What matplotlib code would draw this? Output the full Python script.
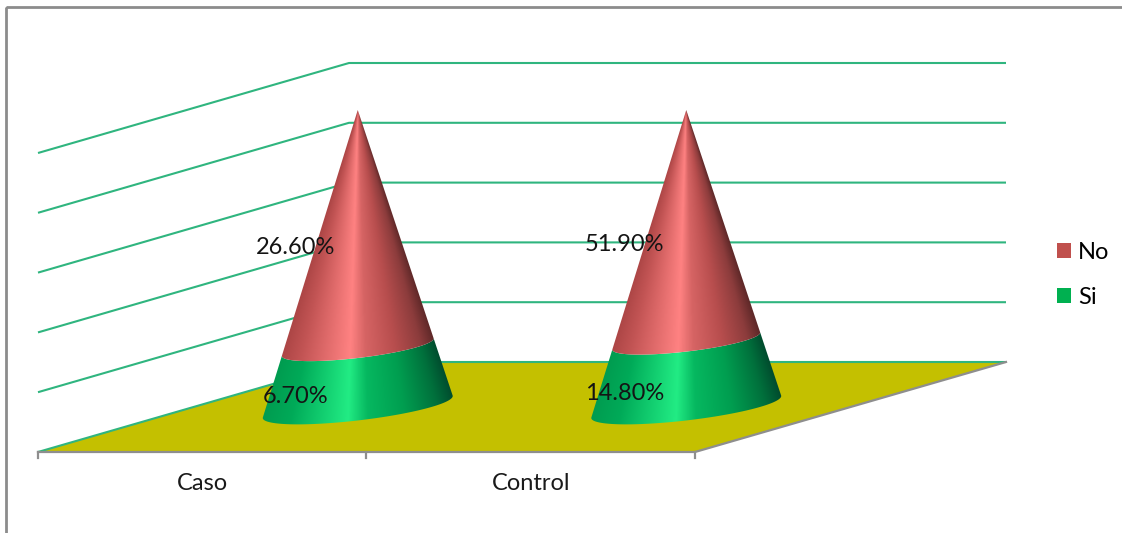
import numpy as np
import matplotlib
matplotlib.use("Agg")
import matplotlib.pyplot as plt
from matplotlib.colors import LinearSegmentedColormap
from matplotlib.patches import Patch, Polygon, Rectangle

# Chart data
categories = ["Caso", "Control"]
si_values = [6.7, 14.8]
no_values = [26.6, 51.9]
series_names = ["No", "Si"]
grid_levels = [0.2, 0.4, 0.6, 0.8, 1.0]

FONT = "Lato"
FONT_SIZE = 17
W, H = 1122, 533

# Oblique projection of the 3-D chart box onto the canvas (in pixels)
ORIGIN = np.array([38.0, 452.0])
CAT_STEP = 328.5
DEPTH_VEC = np.array([311.0, -90.0])
HEIGHT = 299.0
CONE_HEIGHT = 297.0
CONE_HALF_WIDTH = 0.224   # in category units
CONE_HALF_DEPTH = 0.193   # in depth units


def project(cat, level, depth):
    return ORIGIN + np.array([cat * CAT_STEP, -level * HEIGHT]) + depth * DEPTH_VEC


red_shade = LinearSegmentedColormap.from_list(
    "red_shade",
    [(0.0, "#ad4646"), (0.12, "#c25454"), (0.43, "#ff8282"), (0.53, "#d66464"),
     (0.72, "#b84e4e"), (0.9, "#8c3c3c"), (1.0, "#5e2828")])
green_shade = LinearSegmentedColormap.from_list(
    "green_shade",
    [(0.0, "#009c50"), (0.14, "#00aa58"), (0.43, "#22ec84"), (0.53, "#06b860"),
     (0.72, "#009e50"), (0.9, "#00703c"), (1.0, "#004c2e")])

fig = plt.figure(figsize=(W / 100, H / 100), dpi=100)
ax = fig.add_axes([0, 0, 1, 1])

# Chart area border
ax.add_patch(Rectangle((6, 7), W + 20, H + 20, fill=False, ec="#8c8c8c", lw=2.0, zorder=1))

# Floor of the box
floor = [project(0, 0, 0), project(2, 0, 0), project(2, 0, 1), project(0, 0, 1)]
ax.add_patch(Polygon(floor, closed=True, fc="#c4c000", ec="none", zorder=2))

# Gridlines on the side and back walls
GRID = "#2fb57f"
for level in [0.0] + grid_levels:
    pts = np.array([project(0, level, 0), project(0, level, 1), project(2, level, 1)])
    ax.plot(pts[:, 0], pts[:, 1], color=GRID, lw=1.5, zorder=3, solid_capstyle="butt")

# Category axis and the right floor edge
AXIS = "#8e8e8e"
front = np.array([project(0, 0, 0), project(2, 0, 0), project(2, 0, 1)])
ax.plot(front[:, 0], front[:, 1], color=AXIS, lw=1.6, zorder=4)
for c in range(len(categories) + 1):
    p = project(c, 0, 0)
    ax.plot([p[0], p[0]], [p[1], p[1] + 6], color=AXIS, lw=1.6, zorder=4)


def front_arc(center, n=200):
    """Front half of the base circle between the two silhouette tangents."""
    apex = center + np.array([0, -CONE_HEIGHT])
    a = np.array([CONE_HALF_WIDTH * CAT_STEP, 0.0])
    b = CONE_HALF_DEPTH * DEPTH_VEC
    t = np.linspace(0.5 * np.pi, 2.5 * np.pi, 4000)
    pts = center + np.outer(np.cos(t), a) + np.outer(np.sin(t), b)
    ang = (pts[:, 0] - apex[0]) / (pts[:, 1] - apex[1])
    t0, t1 = t[np.argmin(ang)], t[np.argmax(ang)]
    if t1 < t0:
        t1 += 2 * np.pi
    ts = np.linspace(t0, t1, n)
    if np.sin((t0 + t1) / 2) > 0:
        ts = np.linspace(t1, t0 + 2 * np.pi, n)
    return np.outer(np.cos(ts), a) + np.outer(np.sin(ts), b), ang.min(), ang.max()


def draw_section(center, f0, f1, cmap, zorder):
    """Shade the slice of the cone between height fractions f0 and f1.

    Shade follows the ruling through each pixel, so it converges on the apex.
    """
    arc, r_min, r_max = front_arc(center)
    apex = center + np.array([0, -CONE_HEIGHT])
    up = np.array([0, -CONE_HEIGHT])
    x0, x1 = center[0] - 110, center[0] + 110
    y0, y1 = apex[1] - 2, center[1] + 30
    sx, sy = np.meshgrid(np.arange(x0, x1, 0.5), np.arange(y0, y1, 0.5))
    ratio = (sx - apex[0]) / np.maximum(sy - apex[1], 0.5)
    shade = np.clip((ratio - r_min) / (r_max - r_min), 0, 1)
    im = ax.imshow(shade, cmap=cmap, vmin=0, vmax=1, extent=(x0, x1, y1, y0),
                   interpolation="bilinear", aspect="auto", zorder=zorder)
    outline = np.vstack([center + f0 * up + (1 - f0) * arc,
                         (center + f1 * up + (1 - f1) * arc)[::-1]])
    im.set_clip_path(Polygon(outline, closed=True, transform=ax.transData))


# One 100% stacked cone per category, with value labels
for c, (si, no) in enumerate(zip(si_values, no_values)):
    center = project(c + 0.5, 0, 0.5)
    total = si + no
    split = si / total
    draw_section(center, 0.0, split, green_shade, 5)
    draw_section(center, split, 1.0, red_shade, 5)
    for value, mid in ((si, split / 2), (no, (split + 1) / 2)):
        ax.text(center[0] - 62, center[1] - mid * HEIGHT + 20, f"{value:.2f}%",
                ha="center", va="center", fontsize=FONT_SIZE, family=FONT,
                color="#141414", zorder=6)
    ax.text(project(c + 0.5, 0, 0)[0], 483, categories[c], ha="center", va="center",
            fontsize=FONT_SIZE, family=FONT, color="#1a1a1a", zorder=6)

ax.set_xlim(0, W)
ax.set_ylim(H, 0)
ax.axis("off")

# Legend
handles = [Patch(fc="#c0504d", ec="none"), Patch(fc="#00b050", ec="none")]
ax.legend(handles, series_names, loc="center left", bbox_to_anchor=(1057, 275),
          bbox_transform=ax.transData, frameon=False, ncol=1,
          prop={"family": FONT, "size": FONT_SIZE}, handlelength=0.59, handleheight=0.59,
          handletextpad=0.3, labelspacing=1.02, borderpad=0, borderaxespad=0)

fig.savefig("out.png", dpi=100, facecolor="white")
